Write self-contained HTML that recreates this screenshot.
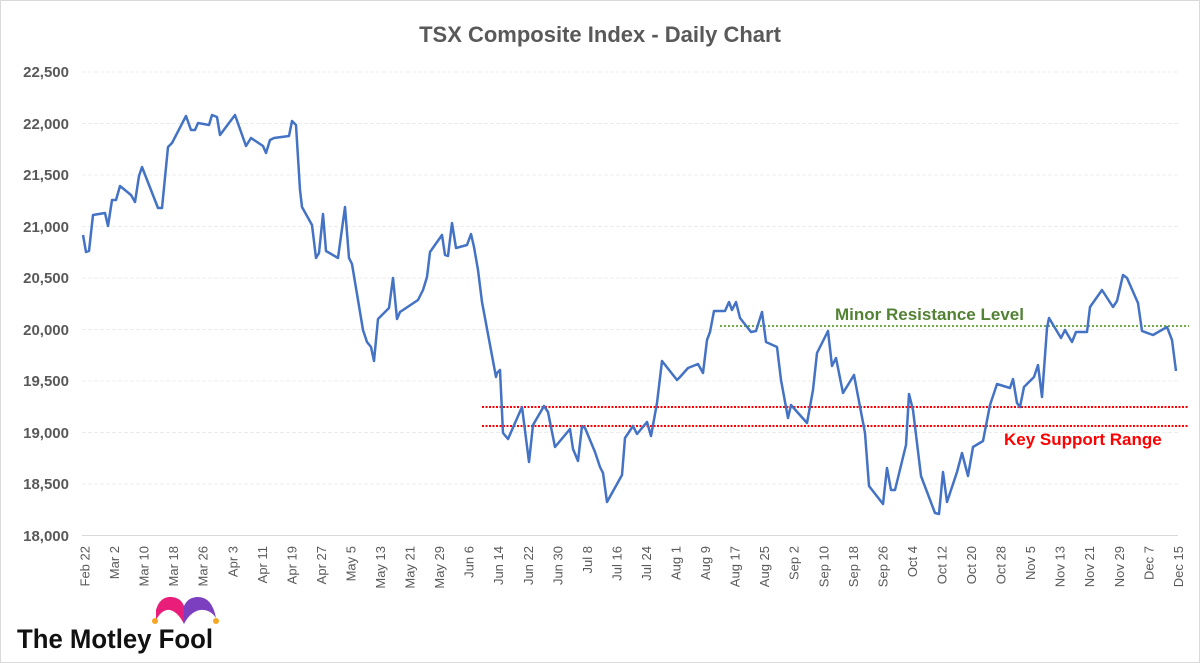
<!DOCTYPE html>
<html><head><meta charset="utf-8"><style>
body{margin:0;background:#fff}
svg{display:block}
text{font-family:"Liberation Sans",Arial,sans-serif}
</style></head><body>
<svg width="1200" height="663" viewBox="0 0 1200 663" xmlns="http://www.w3.org/2000/svg">
<rect x="0.5" y="0.5" width="1199" height="662" fill="#fff" stroke="#d9d9d9"/>
<text x="600" y="42" text-anchor="middle" font-size="22" font-weight="bold" fill="#595959">TSX Composite Index - Daily Chart</text>
<g stroke="#ececec" stroke-width="1" stroke-dasharray="4,2">
<line x1="82" x2="1178" y1="72" y2="72"/><line x1="82" x2="1178" y1="123.5" y2="123.5"/>
<line x1="82" x2="1178" y1="175" y2="175"/><line x1="82" x2="1178" y1="226.5" y2="226.5"/>
<line x1="82" x2="1178" y1="278" y2="278"/><line x1="82" x2="1178" y1="329.5" y2="329.5"/>
<line x1="82" x2="1178" y1="381" y2="381"/><line x1="82" x2="1178" y1="432.5" y2="432.5"/>
<line x1="82" x2="1178" y1="484" y2="484"/>
</g>
<line x1="82" x2="1178" y1="535.5" y2="535.5" stroke="#d9d9d9"/>
<g font-size="15" font-weight="bold" fill="#595959" text-anchor="end">
<text x="69" y="77">22,500</text><text x="69" y="129">22,000</text><text x="69" y="180">21,500</text>
<text x="69" y="232">21,000</text><text x="69" y="283">20,500</text><text x="69" y="335">20,000</text>
<text x="69" y="386">19,500</text><text x="69" y="438">19,000</text><text x="69" y="489">18,500</text>
<text x="69" y="541">18,000</text>
</g>
<g font-size="13" fill="#595959" text-anchor="end" id="xl"></g>
<line x1="720" x2="1189" y1="326" y2="326" stroke="#70ad47" stroke-width="2" stroke-dasharray="2,2"/>
<line x1="482" x2="1189" y1="407" y2="407" stroke="#ff0000" stroke-width="2" stroke-dasharray="2,1.5"/>
<line x1="482" x2="1189" y1="426" y2="426" stroke="#ff0000" stroke-width="2" stroke-dasharray="2,1.5"/>
<text x="835" y="320" font-size="17" font-weight="bold" fill="#548235">Minor Resistance Level</text>
<text x="1004" y="445" font-size="17" font-weight="bold" fill="#ff0000">Key Support Range</text>
<polyline fill="none" stroke="#4472c4" stroke-width="2.5" stroke-linejoin="round" points="83,235 86,252 89,251 93,215 105,213 108,226 112,200 116,200 120,186 131,195 135,202 139,176 142,167 158,208 162,208 168,147 172,143 186,116 191,130 195,130 198,123 209,125 212,115 217,117 220,135 235,115 246,146 251,138 263,146 266,153 270,140 274,138 289,136 292,121 296,125 300,190 302,207 312,225 316,258 319,253 323,214 326,251 338,258 345,207 349,258 352,264 363,330 367,342 371,347 374,361 378,319 389,308 393,278 397,319 400,312 418,300 423,290 427,277 430,252 442,235 445,255 448,256 452,223 456,248 467,245 471,234 474,247 478,270 482,302 496,377 497,373 500,370 503,433 508,439 522,407 529,462 533,425 544,406 548,412 555,447 570,429 573,449 578,461 582,426 585,428 595,452 600,467 603,473 607,502 622,475 625,438 633,426 637,434 647,422 651,436 657,403 662,361 677,380 680,377 688,368 698,364 703,373 707,340 710,332 714,311 725,311 729,302 732,310 736,302 740,318 751,332 756,331 762,312 766,342 777,347 781,380 788,418 791,405 807,423 813,390 817,353 828,331 832,366 836,358 843,393 854,375 865,433 869,486 883,504 887,468 891,490 895,490 906,445 909,394 913,410 921,476 935,513 939,514 943,472 947,502 957,472 962,453 968,476 973,447 983,441 990,405 997,384 1010,388 1013,379 1017,403 1020,407 1024,387 1034,377 1038,365 1042,397 1047,328 1049,318 1061,338 1065,330 1072,342 1076,332 1087,332 1090,307 1102,290 1113,307 1117,301 1123,275 1127,278 1138,303 1142,331 1153,335 1167,327 1172,340 1176,371"/>
<path d="M156,610 Q160,596 172,597 Q181,598 184,606 L184,624 Q178,612 170,610 Q162,609 156,620 Z" fill="#e91e7a"/>
<path d="M184,606 Q188,597 198,597 Q212,597 216,618 Q210,609 200,610 Q190,612 184,624 Z" fill="#7b3fbf"/>
<circle cx="155" cy="621" r="3" fill="#f5a623"/><circle cx="216" cy="621" r="3" fill="#f5a623"/>
<text x="17" y="648" font-size="27" font-weight="bold" fill="#111" textLength="196" lengthAdjust="spacingAndGlyphs">The Motley Fool</text>
</svg>
<script>
var l=["Feb 22","Mar 2","Mar 10","Mar 18","Mar 26","Apr 3","Apr 11","Apr 19","Apr 27","May 5","May 13","May 21","May 29","Jun 6","Jun 14","Jun 22","Jun 30","Jul 8","Jul 16","Jul 24","Aug 1","Aug 9","Aug 17","Aug 25","Sep 2","Sep 10","Sep 18","Sep 26","Oct 4","Oct 12","Oct 20","Oct 28","Nov 5","Nov 13","Nov 21","Nov 29","Dec 7","Dec 15"];
var g=document.getElementById("xl"),s="";
for(var i=0;i<l.length;i++){var x=85+i*29.55+4.5;s+='<text transform="translate('+x.toFixed(1)+',546) rotate(-90)">'+l[i]+'</text>';}
g.innerHTML=s;
</script>
</body></html>
